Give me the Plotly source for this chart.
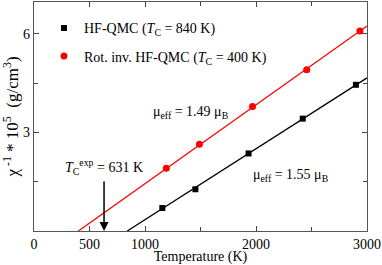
import plotly.graph_objects as go

# Data
T_hf = [1156, 1454, 1933, 2421, 2900]
chi_hf = [0.70, 1.27, 2.36, 3.42, 4.45]
T_rot = [1192, 1490, 1969, 2457, 2936]
chi_rot = [1.91, 2.64, 3.79, 4.91, 6.09]

# Curie-Weiss fit lines
T_fit_hf = [840, 3000]
chi_fit_hf = [0.0, 4.66]
T_fit_rot = [400, 3000]
chi_fit_rot = [0.0, 6.24]

T_exp = 631

x_tickvals = [0, 500, 1000, 2000, 3000]
x_ticktext = ["0", "500", "1000", "2000", "3000"]
x_minor = [1500, 2500]
y_tickvals = [3, 6]
y_minor = [1.5, 4.5]

FONT = "Liberation Serif"
fig = go.Figure()

fig.add_trace(go.Scatter(x=T_fit_hf, y=chi_fit_hf, mode="lines",
                         line=dict(color="black", width=1.3), showlegend=False, hoverinfo="skip"))
fig.add_trace(go.Scatter(x=T_fit_rot, y=chi_fit_rot, mode="lines",
                         line=dict(color="red", width=1.3), showlegend=False, hoverinfo="skip"))
fig.add_trace(go.Scatter(x=T_hf, y=chi_hf, mode="markers", legendgroup="a",
                         marker=dict(symbol="square", color="black", size=6),
                         name="HF-QMC (<i>T</i><sub>C</sub> = 840 K)"))
fig.add_trace(go.Scatter(x=T_rot, y=chi_rot, mode="markers", legendgroup="b",
                         marker=dict(symbol="circle", color="red", size=7),
                         name="Rot. inv. HF-QMC (<i>T</i><sub>C</sub> = 400 K)"))

fig.update_xaxes(range=[0, 3000], tickmode="array", tickvals=x_tickvals, ticktext=x_ticktext,
                 ticks="inside", ticklen=5, tickcolor="#444", mirror="ticks",
                 showline=True, linecolor="#555", linewidth=1.3, showgrid=False, zeroline=False,
                 minor=dict(tickmode="array", tickvals=x_minor, ticks="inside", ticklen=4, tickcolor="#444"),
                 tickfont=dict(family=FONT, size=14, color="black"),
                 title=dict(text="Temperature (K)", font=dict(family=FONT, size=14, color="black"), standoff=2))
fig.update_yaxes(range=[0, 6.97], tickmode="array", tickvals=y_tickvals,
                 ticks="inside", ticklen=5, tickcolor="#444", mirror="ticks",
                 showline=True, linecolor="#555", linewidth=1.3, showgrid=False, zeroline=False,
                 minor=dict(tickmode="array", tickvals=y_minor, ticks="inside", ticklen=4, tickcolor="#444"),
                 tickfont=dict(family=FONT, size=14, color="black"),
                 title=dict(text="χ<sup> -1</sup> * 10<sup>5</sup>  (g/cm<sup>3</sup>)",
                            font=dict(family=FONT, size=17, color="black"), standoff=6))

fig.add_annotation(x=1414, y=3.6, xref="x", yref="y", showarrow=False,
                   text="μ<sub>eff</sub> = 1.49 μ<sub>B</sub>", font=dict(family=FONT, size=14, color="black"))
fig.add_annotation(x=2315, y=1.68, xref="x", yref="y", showarrow=False,
                   text="μ<sub>eff</sub> = 1.55 μ<sub>B</sub>", font=dict(family=FONT, size=14, color="black"))
fig.add_annotation(x=T_exp, y=1.58, xref="x", yref="y", showarrow=False, yanchor="bottom",
                   text="<i>T</i><sub>C</sub><sup>exp</sup> = 631 K", font=dict(family=FONT, size=14, color="black"))
fig.add_annotation(x=T_exp, y=0, xref="x", yref="y", showarrow=True, text="",
                   ax=0, ay=-51, arrowhead=2, arrowsize=1.2, arrowwidth=1.5, arrowcolor="black")

fig.update_layout(width=382, height=265, margin=dict(l=34, r=15, t=1, b=32),
                  plot_bgcolor="white", paper_bgcolor="white",
                  font=dict(family=FONT, size=14, color="black"),
                  legend=dict(x=0.03, y=0.955, xanchor="left", yanchor="top", bgcolor="rgba(0,0,0,0)",
                              font=dict(family=FONT, size=14, color="black"), tracegroupgap=7,
                              itemwidth=30))

fig.write_html("out.html", config={"displayModeBar": False},
               post_script="document.body.style.margin='0';document.body.style.overflow='hidden';")
